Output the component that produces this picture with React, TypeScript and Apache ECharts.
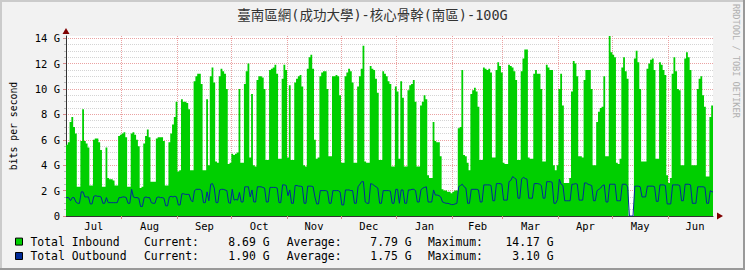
import React, { useEffect, useRef } from 'react';
import * as echarts from 'echarts';

const TITLE = '臺南區網(成功大學)-核心骨幹(南區)-100G';
const WATERMARK = 'RRDTOOL / TOBI OETIKER';
const Y_NAME = 'bits per second';
const SERIES_NAMES = ['Total Inbound', 'Total Outbound'];
const SERIES_COLORS = ['#00CF00', '#002A97'];
const CURRENT = [8.69, 1.9];
const AVERAGE = [7.79, 1.75];
const MAXIMUM = [14.17, 3.1];

const MONTHS = ['Jul', 'Aug', 'Sep', 'Oct', 'Nov', 'Dec', 'Jan', 'Feb', 'Mar', 'Apr', 'May', 'Jun'];
const MONTH_START = [31, 62, 92, 123, 153, 184, 215, 243, 274, 304, 335];
const MONTH_MID = [15.5, 46.5, 77, 107.5, 138, 168.5, 199.5, 229, 258.5, 289, 319.5, 350];
const DAYS = 360;
const Y_MAJOR = [0, 2, 4, 6, 8, 10, 12, 14];
const Y_MINOR = [0.5, 1, 1.5, 2.5, 3, 3.5, 4.5, 5, 5.5, 6.5, 7, 7.5, 8.5, 9, 9.5, 10.5, 11, 11.5, 12.5, 13, 13.5];

// daily averages in Gbit/s, one row per week (Sun..Sat), starting Jul 1
const INBOUND = [
  5.6, 5.8, 7.4, 7.8, 7.0, 6.5, 2.3,
  2.3, 5.9, 8.4, 5.9, 5.7, 5.4, 2.4,
  2.4, 6.0, 6.1, 6.1, 5.8, 5.2, 2.3,
  2.3, 5.4, 3.0, 2.9, 2.9, 2.8, 2.4,
  2.4, 6.3, 6.4, 6.5, 6.6, 6.2, 2.3,
  2.3, 6.5, 6.6, 6.4, 6.0, 5.5, 2.2,
  2.3, 5.7, 6.3, 6.8, 6.2, 2.7, 2.7,
  2.7, 6.1, 6.2, 6.2, 6.2, 5.9, 2.4,
  2.4, 5.8, 6.5, 7.2, 7.8, 9.0, 3.5,
  3.6, 9.2, 9.0, 9.0, 8.9, 8.4, 3.6,
  3.6, 10.6, 11.0, 11.2, 11.2, 10.4, 3.6,
  3.6, 9.2, 4.0, 11.0, 11.7, 10.5, 4.3,
  4.2, 11.0, 11.6, 11.4, 11.2, 10.0, 4.1,
  4.2, 4.9, 4.8, 4.9, 5.0, 10.0, 4.2,
  4.2, 10.4, 11.4, 12.0, 4.6, 9.6, 4.0,
  3.9, 10.7, 11.0, 11.0, 10.9, 10.0, 4.4,
  4.4, 11.5, 11.6, 11.7, 11.9, 11.2, 4.5,
  4.5, 10.8, 11.9, 11.5, 4.6, 10.3, 4.4,
  4.4, 10.5, 10.8, 11.0, 11.1, 10.2, 4.0,
  3.9, 11.6, 12.5, 12.7, 11.6, 6.0, 4.5,
  4.6, 11.0, 11.3, 11.4, 11.4, 10.0, 4.7,
  4.7, 11.0, 11.0, 11.1, 11.0, 9.5, 4.2,
  4.2, 11.0, 11.3, 11.6, 11.4, 10.5, 4.2,
  4.2, 10.2, 11.0, 11.6, 13.4, 4.3, 4.2,
  4.2, 11.8, 11.6, 11.5, 10.8, 9.7, 4.4,
  4.4, 11.4, 11.2, 11.0, 10.6, 10.4, 3.9,
  3.9, 10.2, 9.8, 4.5, 10.6, 9.3, 3.9,
  3.9, 9.9, 10.3, 10.4, 10.7, 9.0, 3.9,
  3.9, 8.7, 9.0, 9.5, 9.2, 3.2, 3.0,
  3.0, 7.4, 5.9, 5.8, 5.8, 4.7, 2.1,
  2.0, 2.0, 1.9, 1.9, 1.8, 1.9, 2.0,
  2.0, 6.9, 7.0, 11.5, 4.8, 4.7, 4.2,
  3.6, 9.6, 9.9, 10.1, 9.8, 8.6, 4.4,
  4.4, 11.7, 11.6, 11.5, 11.6, 11.3, 4.6,
  4.6, 11.5, 12.1, 11.8, 11.3, 4.2, 4.1,
  4.1, 11.9, 11.8, 11.7, 11.4, 10.7, 4.4,
  4.4, 11.4, 12.4, 13.1, 13.1, 4.6, 4.5,
  4.5, 11.2, 11.5, 11.2, 11.2, 10.0, 4.3,
  4.3, 11.9, 11.7, 11.5, 11.5, 4.0, 3.6,
  4.0, 10.0, 11.2, 8.7, 2.6, 2.6, 2.6,
  3.0, 9.8, 12.2, 12.0, 11.0, 4.7, 4.7,
  4.6, 10.7, 11.5, 11.5, 11.5, 10.0, 4.0,
  4.0, 7.4, 8.2, 8.5, 8.6, 11.0, 4.7,
  4.7, 14.17, 12.9, 12.7, 12.5, 4.2, 4.1,
  4.5, 11.7, 12.5, 11.4, 10.8, 0, 0,
  0, 12.4, 13.0, 12.1, 10.0, 4.3, 4.3,
  4.3, 11.6, 12.0, 12.3, 12.4, 11.5, 4.5,
  4.5, 12.1, 11.9, 11.5, 11.1, 3.2, 2.6,
  3.0, 11.2, 12.5, 11.4, 10.0, 9.9, 4.0,
  4.0, 12.4, 12.9, 12.5, 11.5, 4.0, 4.0,
  4.0, 10.0, 10.8, 11.0, 9.5, 8.6, 3.1,
  3.1, 7.8, 8.69,
];

const OUTBOUND = [
  1.45, 1.45, 1.2, 1.45, 1.45, 1.1, 1.0,
  1.0, 1.9, 1.9, 1.5, 1.5, 1.5, 0.95,
  0.95, 1.55, 1.6, 1.55, 1.55, 1.5, 1.0,
  1.0, 1.45, 1.05, 1.05, 1.05, 1.05, 1.05,
  1.05, 1.45, 1.45, 1.5, 1.5, 1.45, 1.0,
  1.0, 2.1, 1.5, 1.45, 1.45, 1.4, 0.75,
  0.75, 1.45, 1.5, 1.45, 1.45, 1.05, 1.0,
  1.0, 1.45, 1.5, 1.45, 1.45, 1.4, 0.8,
  0.8, 1.5, 1.55, 1.5, 1.55, 1.5, 0.87,
  0.87, 1.75, 1.75, 1.7, 1.7, 1.7, 1.25,
  1.1, 2.0, 2.1, 2.1, 2.1, 2.0, 1.05,
  1.05, 1.9, 1.2, 2.5, 2.55, 2.2, 1.05,
  1.05, 2.05, 2.1, 2.1, 2.05, 2.0, 1.05,
  1.0, 2.1, 1.25, 1.3, 1.25, 1.85, 1.1,
  1.1, 2.3, 2.3, 2.3, 1.5, 2.05, 1.1,
  1.1, 2.3, 2.3, 2.3, 2.25, 2.2, 1.1,
  1.1, 2.25, 2.25, 2.25, 2.25, 2.2, 1.05,
  1.05, 2.45, 2.45, 2.4, 1.6, 2.05, 1.0,
  1.0, 2.4, 2.4, 2.35, 2.35, 2.3, 1.0,
  1.0, 2.35, 2.35, 2.35, 2.3, 1.5, 0.95,
  0.95, 2.0, 2.0, 2.0, 2.0, 1.95, 1.0,
  1.0, 2.0, 2.0, 2.0, 2.0, 1.9, 0.87,
  0.87, 2.05, 2.05, 2.05, 2.0, 2.0, 1.0,
  1.0, 2.3, 2.5, 2.7, 2.7, 1.1, 1.0,
  1.0, 2.55, 2.5, 2.4, 2.3, 2.2, 1.0,
  1.0, 2.0, 2.0, 2.0, 2.0, 1.95, 1.0,
  1.0, 2.1, 2.1, 1.0, 2.05, 2.05, 1.0,
  1.0, 2.05, 2.05, 2.1, 2.1, 2.0, 1.1,
  1.1, 2.05, 2.2, 2.25, 2.3, 1.1, 1.1,
  1.1, 2.05, 1.65, 1.65, 1.6, 1.5, 1.1,
  1.05, 1.0, 1.0, 0.95, 0.9, 0.9, 0.95,
  1.0, 2.3, 2.4, 2.5, 2.3, 2.2, 1.0,
  1.0, 2.1, 2.1, 2.1, 2.1, 2.05, 1.1,
  1.1, 2.45, 2.45, 2.45, 2.45, 2.4, 1.2,
  1.2, 2.55, 2.55, 2.55, 2.5, 1.25, 1.25,
  1.25, 2.7, 2.8, 3.1, 3.0, 2.9, 1.4,
  1.4, 2.9, 3.05, 2.95, 2.9, 1.4, 1.4,
  1.4, 2.55, 2.55, 2.55, 2.5, 2.4, 1.4,
  1.4, 2.7, 2.7, 2.7, 2.65, 1.0, 1.0,
  1.3, 2.9, 2.5, 2.4, 1.2, 1.2, 1.2,
  1.2, 2.5, 2.5, 2.55, 2.5, 1.25, 1.25,
  1.25, 2.6, 2.6, 2.5, 2.45, 2.4, 1.2,
  1.2, 2.0, 2.1, 2.2, 2.4, 2.45, 1.1,
  1.1, 2.5, 2.5, 2.5, 2.5, 1.2, 1.2,
  1.2, 2.5, 2.5, 2.5, 2.3, 0, 0,
  0, 2.35, 2.35, 2.35, 2.3, 1.5, 1.5,
  1.5, 2.35, 2.35, 2.35, 2.35, 2.3, 1.15,
  1.15, 2.45, 2.45, 2.45, 2.4, 0.95, 0.95,
  0.95, 2.45, 2.45, 2.45, 2.45, 2.4, 1.2,
  1.2, 2.5, 2.5, 2.5, 2.45, 1.0, 1.0,
  1.0, 2.3, 2.3, 2.3, 2.3, 2.25, 1.0,
  1.0, 2.0, 1.9,
];

const MONO = "'DejaVu Sans Mono', monospace";
const TITLE_FONT = "'DejaVu Sans Mono', 'Noto Sans CJK TC', sans-serif";

// each daily value spans [day, day + 1)
function toSteps(values: number[]): number[][] {
  const pts = values.map((v, i) => [i, v]);
  pts.push([values.length, values[values.length - 1]]);
  return pts;
}

// each daily value drawn at the middle of its day, joined by straight segments
function toCentres(values: number[]): number[][] {
  const pts = values.map((v, i) => [i + 0.5, v]);
  pts.unshift([0, values[0]]);
  pts.push([values.length, values[values.length - 1]]);
  return pts;
}

export default function App() {
  const ref = useRef<HTMLDivElement>(null);

  useEffect(() => {
    if (!ref.current) return;
    const chart = echarts.init(ref.current, undefined, { renderer: 'svg' });
    const yMax = Math.max(...INBOUND, ...OUTBOUND);

    const legendEls: any[] = [];
    SERIES_NAMES.forEach((name, i) => {
      const y = 241.8 + i * 14.4;
      legendEls.push(
        { type: 'rect', shape: { x: 15.5, y: y - 3.7, width: 7, height: 7 }, style: { fill: SERIES_COLORS[i], stroke: '#000', lineWidth: 1 } },
        { type: 'text', x: 30.5, y, style: { text: name, fontSize: 11.4, fontFamily: MONO, fill: '#000', align: 'left', verticalAlign: 'middle' } },
        { type: 'text', x: 144, y, style: { text: 'Current:', fontSize: 11.4, fontFamily: MONO, fill: '#000', align: 'left', verticalAlign: 'middle' } },
        { type: 'text', x: 269.5, y, style: { text: `${CURRENT[i].toFixed(2)} G`, fontSize: 11.4, fontFamily: MONO, fill: '#000', align: 'right', verticalAlign: 'middle' } },
        { type: 'text', x: 286.7, y, style: { text: 'Average:', fontSize: 11.4, fontFamily: MONO, fill: '#000', align: 'left', verticalAlign: 'middle' } },
        { type: 'text', x: 411.5, y, style: { text: `${AVERAGE[i].toFixed(2)} G`, fontSize: 11.4, fontFamily: MONO, fill: '#000', align: 'right', verticalAlign: 'middle' } },
        { type: 'text', x: 428, y, style: { text: 'Maximum:', fontSize: 11.4, fontFamily: MONO, fill: '#000', align: 'left', verticalAlign: 'middle' } },
        { type: 'text', x: 553.5, y, style: { text: `${MAXIMUM[i].toFixed(2)} G`, fontSize: 11.4, fontFamily: MONO, fill: '#000', align: 'right', verticalAlign: 'middle' } },
      );
    });

    const option: any = {
      animation: false,
      backgroundColor: '#f2f2f2',
      textStyle: { fontFamily: MONO },
      grid: { left: 64, right: 32, top: 36, bottom: 54, show: true, backgroundColor: '#ffffff', borderWidth: 0 },
      xAxis: [
        {
          type: 'value', min: 0, max: DAYS, position: 'bottom',
          axisLine: { show: true, onZero: false, lineStyle: { color: '#333', width: 1 } },
          axisTick: { show: true, customValues: MONTH_START, length: 3, lineStyle: { color: '#d58a8a' } },
          axisLabel: {
            show: true, customValues: MONTH_MID, color: '#000', fontSize: 10.5, fontFamily: MONO, margin: 4,
            formatter: (v: number) => {
              const idx = MONTH_MID.findIndex((m) => Math.abs(m - v) < 0.01);
              return idx >= 0 ? MONTHS[idx] : '';
            },
          },
          splitLine: { show: true, lineStyle: { color: '#eaa2a2', type: [1, 1], width: 1 } },
        },
        {
          type: 'value', min: 0, max: DAYS, position: 'bottom',
          axisLine: { show: true, onZero: false, symbol: ['none', 'triangle'], symbolSize: [7, 6], symbolOffset: [0, 7], lineStyle: { color: '#7f0000', width: 0 } },
          axisTick: { show: false }, axisLabel: { show: false }, splitLine: { show: false },
        },
      ],
      yAxis: [
        {
          type: 'value', min: 0, max: yMax, position: 'left',
          name: Y_NAME, nameLocation: 'middle', nameGap: 48,
          nameTextStyle: { fontFamily: MONO, fontSize: 9.8, color: '#000' },
          axisLine: { show: true, onZero: false, lineStyle: { color: '#333', width: 1 } },
          axisTick: { show: true, customValues: Y_MAJOR, length: 3, lineStyle: { color: '#d58a8a' } },
          axisLabel: {
            show: true, customValues: Y_MAJOR, color: '#000', fontSize: 10.5, fontFamily: MONO, margin: 6,
            formatter: (v: number) => (v === 0 ? '0' : `${v} G`),
          },
          splitLine: { show: true, lineStyle: { color: '#eaa2a2', type: [1, 1], width: 1 } },
        },
        {
          type: 'value', min: 0, max: yMax, position: 'left',
          axisLine: { show: true, onZero: false, symbol: ['none', 'triangle'], symbolSize: [7, 6], symbolOffset: [0, 5], lineStyle: { color: '#7f0000', width: 0 } },
          axisTick: { show: true, customValues: Y_MINOR, length: 2, lineStyle: { color: '#bbbbbb' } },
          axisLabel: { show: false },
          splitLine: { show: true, lineStyle: { color: '#d4d4d4', type: [1, 1], width: 1 } },
        },
      ],
      series: [
        {
          name: SERIES_NAMES[0], type: 'line', xAxisIndex: 0, yAxisIndex: 0,
          data: toSteps(INBOUND), step: 'end', symbol: 'none', showSymbol: false,
          lineStyle: { width: 0, color: SERIES_COLORS[0] },
          areaStyle: { color: SERIES_COLORS[0], opacity: 1 },
          z: 2, silent: true,
        },
        {
          name: SERIES_NAMES[1], type: 'line', xAxisIndex: 0, yAxisIndex: 0,
          data: toCentres(OUTBOUND), symbol: 'none', showSymbol: false,
          lineStyle: { width: 1, color: SERIES_COLORS[1] },
          z: 3, silent: true,
        },
      ],
      graphic: [
        { type: 'rect', shape: { x: 0, y: 0, width: 745, height: 2 }, style: { fill: '#cbcbcb' }, silent: true },
        { type: 'rect', shape: { x: 0, y: 0, width: 2, height: 270 }, style: { fill: '#cbcbcb' }, silent: true },
        { type: 'rect', shape: { x: 0, y: 268, width: 745, height: 2 }, style: { fill: '#999999' }, silent: true },
        { type: 'rect', shape: { x: 743, y: 0, width: 2, height: 270 }, style: { fill: '#999999' }, silent: true },
        { type: 'text', x: 372.5, y: 15, style: { text: TITLE, fontSize: 13.5, fontFamily: TITLE_FONT, fill: '#333', align: 'center', verticalAlign: 'middle' } },
        { type: 'text', x: 736, y: 4, rotation: -Math.PI / 2, style: { text: WATERMARK, fontSize: 8.6, fontFamily: MONO, fill: '#b0b0b0', align: 'left', verticalAlign: 'middle' } },
        ...legendEls,
      ],
    };

    chart.setOption(option);
    return () => chart.dispose();
  }, []);

  return <div ref={ref} style={{ position: 'absolute', left: 0, top: 0, width: 745, height: 270 }} />;
}
